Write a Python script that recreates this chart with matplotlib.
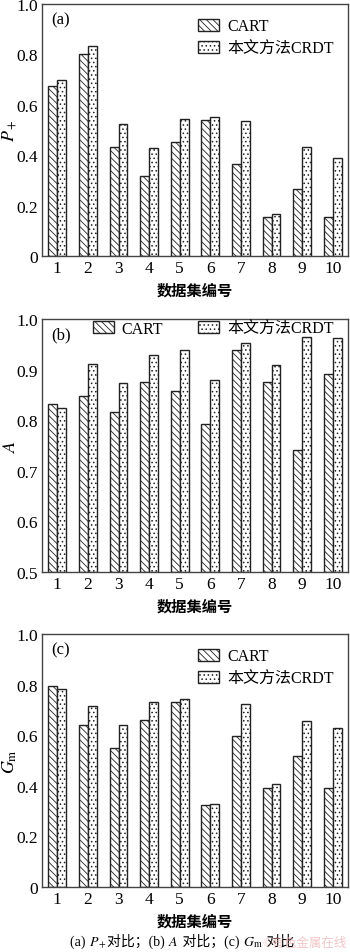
import numpy as np
import matplotlib
matplotlib.use('Agg')
import matplotlib.pyplot as plt

plt.rcParams['font.family'] = ['Liberation Serif', 'Noto Sans CJK SC']
plt.rcParams['mathtext.fontset'] = 'stix'
plt.rcParams['hatch.linewidth'] = 0.6

# data
datasets = [1, 2, 3, 4, 5, 6, 7, 8, 9, 10]
series_names = ['CART', '本文方法CRDT']

p_cart = [0.675, 0.80, 0.433, 0.319, 0.452, 0.538, 0.364, 0.155, 0.267, 0.156]
p_crdt = [0.700, 0.835, 0.524, 0.429, 0.545, 0.550, 0.537, 0.168, 0.433, 0.390]

a_cart = [0.833, 0.848, 0.816, 0.875, 0.857, 0.792, 0.939, 0.875, 0.742, 0.891]
a_crdt = [0.824, 0.912, 0.874, 0.929, 0.938, 0.880, 0.953, 0.909, 0.964, 0.962]

g_cart = [0.795, 0.641, 0.549, 0.662, 0.730, 0.323, 0.596, 0.390, 0.517, 0.392]
g_crdt = [0.782, 0.715, 0.642, 0.731, 0.744, 0.330, 0.723, 0.409, 0.656, 0.627]

panels = ['(a)', '(b)', '(c)']
ylabels = [r'$P_+$', r'$A$', r'$G_{\rm m}$']
ylims = [(0, 1.0), (0.5, 1.0), (0, 1.0)]
yticks = [[0, 0.2, 0.4, 0.6, 0.8, 1.0],
          [0.5, 0.6, 0.7, 0.8, 0.9, 1.0],
          [0, 0.2, 0.4, 0.6, 0.8, 1.0]]
values = [(p_cart, p_crdt), (a_cart, a_crdt), (g_cart, g_crdt)]

# caption pieces
caption = ['(a) ', r'$P_+$', '对比；(b) ', r'$A$', ' 对比；(c) ', r'$G_{\rm m}$', ' 对比']

W, H = 350, 953
fig = plt.figure(figsize=(W / 100, H / 100), dpi=100)

boxes = [(5, 257), (320, 573), (635, 888)]
x = np.array(datasets)
bw = 0.29

for i in range(3):
    top, bot = boxes[i]
    ax = fig.add_axes([42 / W, 1 - bot / H, 306 / W, (bot - top) / H])
    cart, crdt = values[i]
    lo = ylims[i][0]
    ax.bar(x - bw / 2, np.array(cart) - lo, bw, bottom=lo, color='white',
           edgecolor='#222222', hatch='\\\\\\\\\\', linewidth=1.0, label=series_names[0])
    ax.bar(x + bw / 2, np.array(crdt) - lo, bw, bottom=lo, color='white',
           edgecolor='#222222', hatch='....', linewidth=1.0, label=series_names[1])
    ax.set_xlim(0.5, 10.5)
    ax.set_ylim(*ylims[i])
    ax.set_xticks(x)
    ax.set_xticklabels([str(d) for d in datasets])
    ax.set_yticks(yticks[i])
    ax.set_yticklabels(['0' if t == 0 else '%.1f' % t for t in yticks[i]])
    ax.tick_params(length=0, labelsize=12.5, pad=3)
    for s in ax.spines.values():
        s.set_color('#444444')
        s.set_linewidth(1.0)
    ax.set_ylabel(ylabels[i], fontsize=13)
    ax.yaxis.set_label_coords(-0.075, 0.5)
    ax.set_xlabel('数据集编号', fontsize=11, fontweight='bold', labelpad=5)
    ax.text(0.03, 0.97, panels[i], transform=ax.transAxes, fontsize=12,
            va='top', ha='left')
    if i == 1:
        ax.legend(loc='upper right', bbox_to_anchor=(1.0, 1.05), ncol=2,
                  frameon=False, fontsize=11.5, handlelength=1.3, handleheight=0.8,
                  columnspacing=2.2, handletextpad=0.5)
    else:
        ax.legend(loc='upper right', bbox_to_anchor=(1.0, 1.0), frameon=False,
                  fontsize=11.5, handlelength=1.3, handleheight=0.8,
                  handletextpad=0.5, labelspacing=0.4)

# caption built piece by piece so CJK and math both render
fig.canvas.draw()
renderer = fig.canvas.get_renderer()
pieces = [fig.text(0, 1 - 946 / H, txt, ha='left', va='baseline', fontsize=10)
          for txt in caption]
widths = [p.get_window_extent(renderer).width for p in pieces]
x0 = 70
for p, w in zip(pieces, widths):
    p.set_x(x0 / W)
    x0 += w
fig.text(0.99, 1 - 947 / H, '©有色金属在线', ha='right', va='baseline',
         fontsize=9, color='#e8a0a0', alpha=0.6)

fig.savefig('out.png', dpi=100)
